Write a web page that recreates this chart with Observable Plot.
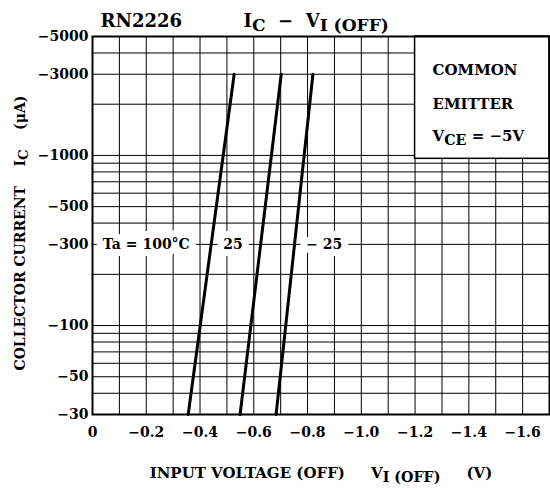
<!DOCTYPE html>
<html><head><meta charset="utf-8">
<script src="https://cdn.jsdelivr.net/npm/d3@7"></script>
<script src="https://cdn.jsdelivr.net/npm/@observablehq/plot@0.6"></script>
<style>body{margin:0;background:#fff} svg{display:block}</style>
</head><body><div id="chart"></div>
<script>
// Curves: input voltage (V) at the two ends of each straight log-linear line
const series = ["100", "25", "-25"];
const ta100V = [-0.356, -0.527];
const ta25V = [-0.549, -0.702];
const taM25V = [-0.683, -0.820];
const currentEnds = [30, 3000]; // µA (magnitude)

const xTicks = [0, -0.2, -0.4, -0.6, -0.8, -1.0, -1.2, -1.4, -1.6];
const xGrid = [-0.1, -0.2, -0.3, -0.4, -0.5, -0.6, -0.7, -0.8, -0.9, -1.0, -1.1, -1.2, -1.3, -1.4, -1.5, -1.6];
const yTicks = [30, 50, 100, 300, 500, 1000, 3000, 5000];
const yGrid = [40, 50, 60, 70, 80, 90, 100, 200, 300, 400, 500, 600, 700, 800, 900, 1000, 2000, 3000, 4000];

const labelText = ["Ta = 100°C", "25", "− 25"];
const labelV = [-0.2, -0.523, -0.862];
const labelI = [300, 300, 300];

const legendText = ["COMMON", "EMITTER", "V{CE} = −5V"];
const legendI = [3150, 2000, 1300];
const legendV = -1.265;
const legendBox = {x1: -1.2, x2: -1.7, y1: 955, y2: 5000};

const titleLeft = "RN2226";
const titleRight = "I{C}  −  V{I (OFF)}";
const xTitle = "INPUT VOLTAGE (OFF)     V{I (OFF)}     (V)";
const yTitle = "COLLECTOR CURRENT    I{C}    (μA)";

const curveV = [ta100V, ta25V, taM25V];
const curves = series.flatMap((ta, k) => currentEnds.map((I, j) => ({ta, V: curveV[k][j], I})));
const labels = labelText.map((t, k) => ({t, V: labelV[k], I: labelI[k]}));
const legend = legendText.map((t, k) => ({t, V: legendV, I: legendI[k]}));

const font = "'DejaVu Serif', serif";
const fmtX = d => d === 0 ? "0" : "−" + Math.abs(d).toFixed(1);

const plot = Plot.plot({
  width: 550, height: 488,
  marginLeft: 92, marginRight: 1, marginTop: 36, marginBottom: 74,
  style: {fontFamily: font, fontWeight: "bold", fontSize: "14px", background: "white", color: "black", overflow: "visible"},
  x: {domain: [0, -1.7], ticks: xTicks, tickFormat: fmtX, tickSize: 0, tickPadding: 13, label: null},
  y: {type: "log", domain: [30, 5000], axis: null},
  marks: [
    Plot.ruleY(yGrid, {stroke: "black", strokeWidth: 1}),
    Plot.ruleX(xGrid, {stroke: "black", strokeWidth: 1}),
    Plot.rect([legendBox], {x1: "x1", x2: "x2", y1: "y1", y2: "y2", fill: "white", stroke: "black", strokeWidth: 1.5}),
    Plot.text(labels, {x: "V", y: "I", text: "t", fill: "black", stroke: "white", strokeWidth: 14, fontSize: 14}),
    Plot.line(curves, {x: "V", y: "I", z: "ta", stroke: "black", strokeWidth: 3}),
    Plot.text(legend, {x: "V", y: "I", text: "t", textAnchor: "start", fontSize: 15}),
    Plot.frame({stroke: "black", strokeWidth: 2}),
    Plot.text(yTicks, {y: d => d, frameAnchor: "left", textAnchor: "end", dx: -4, text: d => "−" + d, fontSize: 14}),
    Plot.text([titleLeft], {frameAnchor: "top-left", dx: 8, dy: -10, lineAnchor: "bottom", textAnchor: "start", fontSize: 18}),
    Plot.text([titleRight], {frameAnchor: "top-left", dx: 151, dy: -10, lineAnchor: "bottom", textAnchor: "start", fontSize: 18}),
    Plot.text([xTitle], {frameAnchor: "bottom", dx: 0, dy: 63, lineAnchor: "bottom", fontSize: 15}),
    Plot.text([yTitle], {frameAnchor: "bottom-left", textAnchor: "start", dx: -68, dy: -44, rotate: -90, fontSize: 14})
  ]
});

// subscripts: "X{sub}" -> tspan with lowered text
d3.select(plot).selectAll("text").each(function () {
  const el = this;
  const s = el.textContent;
  if (!s.includes("{")) return;
  const parts = s.split(/(\{[^}]*\})/);
  el.textContent = "";
  for (const p of parts) {
    if (!p) continue;
    const t = document.createElementNS("http://www.w3.org/2000/svg", "tspan");
    if (p.startsWith("{")) {
      t.textContent = p.slice(1, -1);
      t.setAttribute("font-size", "0.95em");
      t.setAttribute("baseline-shift", "-25%");
    } else {
      t.textContent = p;
    }
    el.appendChild(t);
  }
  el.setAttribute("xml:space", "preserve");
  el.style.whiteSpace = "pre";
});

document.getElementById("chart").appendChild(plot);
</script>
</body></html>
